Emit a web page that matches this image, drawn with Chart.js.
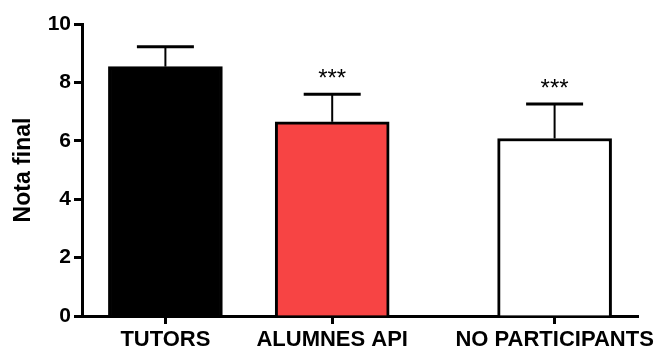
<!DOCTYPE html>
<html>
<head>
<meta charset="utf-8">
<script src="https://cdn.jsdelivr.net/npm/chart.js@4.4.1/dist/chart.umd.min.js"></script>
<style>
html,body{margin:0;padding:0;background:#fff;}
#wrap{width:672px;height:347px;position:relative;}
</style>
</head>
<body>
<div id="wrap"><canvas id="c"></canvas></div>
<script>
const categories = ['TUTORS', 'ALUMNES API', 'NO PARTICIPANTS'];
const positions = [1.5, 4.5, 8.5];
const means = [8.54, 6.65, 6.08];
const errors = [0.68, 0.94, 1.18];
const significance = ['', '***', '***'];
const yTicks = [0, 2, 4, 6, 8, 10];
const barColors = ['#000000', '#F74444', '#FFFFFF'];

const FONT = "'Liberation Sans', Arial, sans-serif";

const errorBarPlugin = {
  id: 'errorBars',
  afterDatasetsDraw(chart) {
    const ctx = chart.ctx;
    const xs = chart.scales.x, ys = chart.scales.y;
    const meta = chart.getDatasetMeta(0);
    ctx.save();
    ctx.strokeStyle = '#000';
    means.forEach((m, i) => {
      const x = xs.getPixelForValue(positions[i]);
      const yTop = ys.getPixelForValue(m);
      const yErr = ys.getPixelForValue(m + errors[i]);
      const bw = meta.data[i].width;
      ctx.lineWidth = 2;
      ctx.beginPath();
      ctx.moveTo(x, yTop);
      ctx.lineTo(x, yErr);
      ctx.stroke();
      ctx.lineWidth = 3;
      ctx.beginPath();
      ctx.moveTo(x - bw / 4, yErr);
      ctx.lineTo(x + bw / 4, yErr);
      ctx.stroke();
      if (significance[i]) {
        ctx.fillStyle = '#000';
        ctx.font = '24px ' + FONT;
        ctx.textAlign = 'center';
        ctx.textBaseline = 'alphabetic';
        ctx.fillText(significance[i], x, yErr - 8);
      }
    });
    ctx.restore();
  }
};

new Chart(document.getElementById('c'), {
  type: 'bar',
  data: {
    datasets: [{
      data: positions.map((p, i) => ({x: p, y: means[i]})),
      backgroundColor: barColors,
      borderColor: '#000',
      borderWidth: 3,
      borderSkipped: 'bottom',
      barThickness: 114
    }]
  },
  plugins: [errorBarPlugin],
  options: {
    responsive: true,
    maintainAspectRatio: false,
    animation: false,
    events: [],
    layout: {padding: {left: 0, top: 24, right: 34, bottom: 0}},
    plugins: {legend: {display: false}, tooltip: {enabled: false}},
    scales: {
      x: {
        type: 'linear',
        min: 0,
        max: 10,
        offset: false,
        z: 1,
        afterBuildTicks(scale) { scale.ticks = positions.map(v => ({value: v})); },
        afterFit(scale) { scale.height = 31; },
        ticks: {
          autoSkip: false,
          maxRotation: 0,
          padding: 3,
          color: '#000',
          font: {family: FONT, size: 22, weight: 'bold'},
          callback: (v, i) => categories[i]
        },
        grid: {display: true, offset: false, drawOnChartArea: false, drawTicks: true, tickLength: 8, tickColor: '#000', tickWidth: 3},
        border: {display: true, color: '#000', width: 3}
      },
      y: {
        min: 0,
        max: 10,
        z: 1,
        afterBuildTicks(scale) { scale.ticks = yTicks.map(v => ({value: v})); },
        afterFit(scale) { scale.width = 82; },
        ticks: {
          padding: 3,
          color: '#000',
          font: {family: FONT, size: 21, weight: 'bold'}
        },
        title: {
          display: true,
          text: 'Nota final',
          color: '#000',
          font: {family: FONT, size: 23, weight: 'bold'},
          padding: {top: 10, bottom: 0}
        },
        grid: {display: true, drawOnChartArea: false, drawTicks: true, tickLength: 8, tickColor: '#000', tickWidth: 3},
        border: {display: true, color: '#000', width: 3}
      }
    }
  }
});
</script>
</body>
</html>
